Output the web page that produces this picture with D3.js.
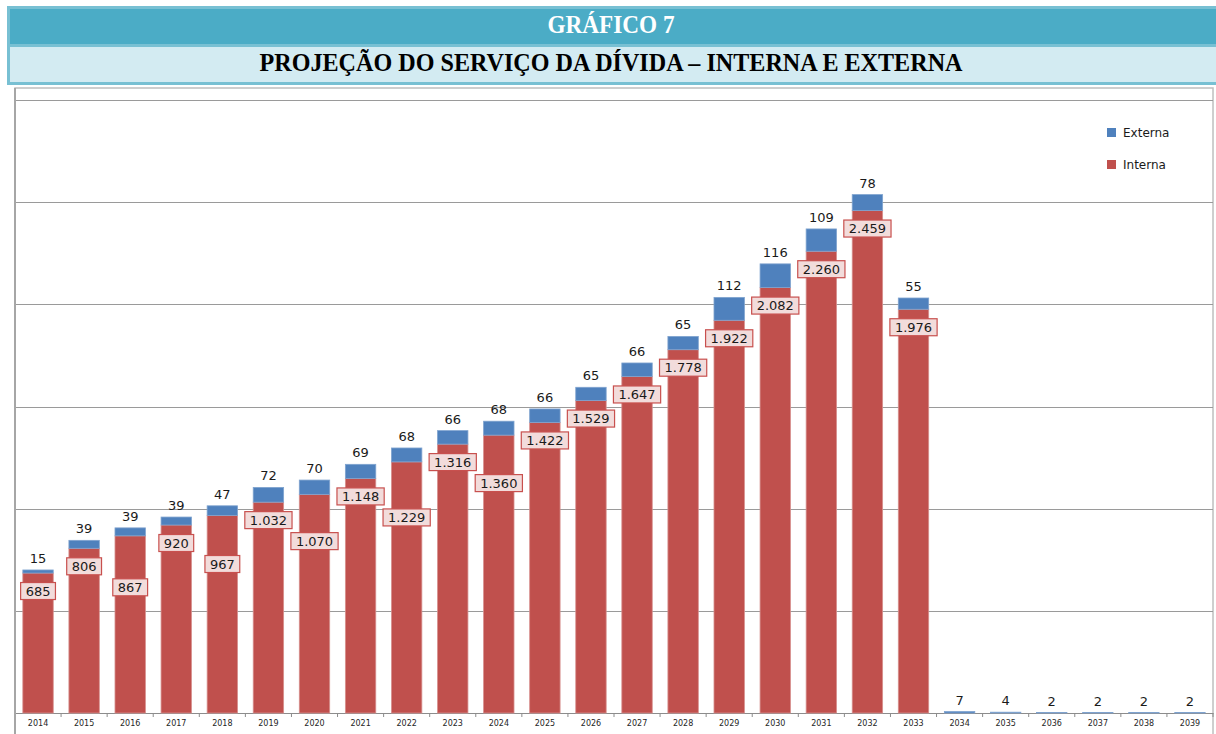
<!DOCTYPE html>
<html>
<head>
<meta charset="utf-8">
<script src="https://cdn.jsdelivr.net/npm/d3@7"></script>
<style>
  body { margin: 0; background: #fff; }
  svg { display: block; }
</style>
</head>
<body>
<div id="chart"></div>
<script>
// anos do eixo x
const years = ['2014', '2015', '2016', '2017', '2018', '2019', '2020', '2021', '2022', '2023',
    '2024', '2025', '2026', '2027', '2028', '2029', '2030', '2031', '2032', '2033',
    '2034', '2035', '2036', '2037', '2038', '2039'];

// servico da divida interna
const interna = [685, 806, 867, 920, 967, 1032, 1070, 1148, 1229, 1316,
    1360, 1422, 1529, 1647, 1778, 1922, 2082, 2260, 2459, 1976,
    0, 0, 0, 0, 0, 0];

// servico da divida externa
const externa = [15, 39, 39, 39, 47, 72, 70, 69, 68, 66,
    68, 66, 65, 66, 65, 112, 116, 109, 78, 55,
    7, 4, 2, 2, 2, 2];

const gridTicks = [500, 1000, 1500, 2000, 2500, 3000];
const seriesNames = ['Externa', 'Interna'];

const width = 1216, height = 734;
const colorInterna = '#C0504D';
const colorExterna = '#4F81BD';

const br = d3.formatLocale({decimal: ',', thousands: '.', grouping: [3], currency: ['R$', '']});
const fmt = br.format(',d');

const svg = d3.select('#chart').append('svg')
    .attr('width', width)
    .attr('height', height);

// ---- cabecalho ----
const head = svg.append('g');
head.append('rect')
    .attr('x', 7).attr('y', 6)
    .attr('width', width - 7).attr('height', 79)
    .attr('fill', '#78C0D3');
head.append('rect')
    .attr('x', 10).attr('y', 9)
    .attr('width', width - 10).attr('height', 35)
    .attr('fill', '#4BACC6');
head.append('rect')
    .attr('x', 10).attr('y', 47)
    .attr('width', width - 10).attr('height', 35)
    .attr('fill', '#D3EBF2');
head.append('text')
    .attr('x', 611).attr('y', 33)
    .attr('text-anchor', 'middle')
    .attr('textLength', 127)
    .attr('lengthAdjust', 'spacingAndGlyphs')
    .style('font-family', '"Liberation Serif", "Times New Roman", serif')
    .style('font-weight', 'bold')
    .style('font-size', '25px')
    .attr('fill', '#FFFFFF')
    .text('GRÁFICO 7');
head.append('text')
    .attr('x', 611).attr('y', 71)
    .attr('text-anchor', 'middle')
    .attr('textLength', 703)
    .attr('lengthAdjust', 'spacingAndGlyphs')
    .style('font-family', '"Liberation Serif", "Times New Roman", serif')
    .style('font-weight', 'bold')
    .style('font-size', '25px')
    .attr('fill', '#000000')
    .text('PROJEÇÃO DO SERVIÇO DA DÍVIDA – INTERNA E EXTERNA');

// ---- area do grafico ----
const plot = {left: 15, right: 1213, top: 100, bottom: 713};

svg.append('rect')
    .attr('x', plot.left).attr('y', 88)
    .attr('width', plot.right - plot.left).attr('height', 700)
    .attr('fill', '#FFFFFF')
    .attr('stroke', '#BFBFBF')
    .attr('stroke-width', 1.5);

const x = d3.scaleBand()
    .domain(years)
    .range([plot.left, plot.right])
    .paddingInner(0.34)
    .paddingOuter(0.17);

const y = d3.scaleLinear()
    .domain([0, 3000])
    .range([plot.bottom, plot.top]);

// linhas de grade
svg.append('g')
    .selectAll('line')
    .data(gridTicks)
    .join('line')
    .attr('x1', plot.left).attr('x2', plot.right)
    .attr('y1', d => Math.round(y(d)) + 0.5)
    .attr('y2', d => Math.round(y(d)) + 0.5)
    .attr('stroke', '#9A9A9A')
    .attr('stroke-width', 1);

// eixo x
const xAxis = d3.axisBottom(x).tickSize(0).tickPadding(7);
const gx = svg.append('g')
    .attr('transform', `translate(0, ${plot.bottom})`)
    .call(xAxis);
gx.select('.domain').attr('stroke', '#8C8C8C');
gx.selectAll('text')
    .style('font-family', '"DejaVu Sans", sans-serif')
    .style('font-size', '8px')
    .attr('fill', '#262626');

// marcas entre categorias
const step = x.step();
svg.append('g')
    .selectAll('line')
    .data(d3.range(years.length + 1))
    .join('line')
    .attr('x1', i => plot.left + i * step)
    .attr('x2', i => plot.left + i * step)
    .attr('y1', plot.bottom)
    .attr('y2', plot.bottom + 4)
    .attr('stroke', '#8C8C8C');

// eixo vertical
svg.append('line')
    .attr('x1', plot.left).attr('x2', plot.left)
    .attr('y1', 88).attr('y2', height)
    .attr('stroke', '#A6A6A6')
    .attr('stroke-width', 2);

// ---- barras empilhadas ----
const rows = years.map((yr, i) => ({year: yr, Interna: interna[i], Externa: externa[i]}));
const stack = d3.stack().keys(['Interna', 'Externa'])(rows);
const colors = {Interna: colorInterna, Externa: colorExterna};
const strokes = {Interna: '#D7908E', Externa: '#7FA3CF'};

svg.append('g')
    .selectAll('g')
    .data(stack)
    .join('g')
    .attr('fill', d => colors[d.key])
    .attr('stroke', d => strokes[d.key])
    .attr('stroke-width', 0.8)
    .selectAll('rect')
    .data(d => d)
    .join('rect')
    .attr('x', d => x(d.data.year))
    .attr('width', x.bandwidth())
    .attr('y', d => y(d[1]))
    .attr('height', d => Math.max(0, y(d[0]) - y(d[1])));

// rotulos da divida externa (acima da barra)
svg.append('g')
    .selectAll('text')
    .data(rows)
    .join('text')
    .attr('x', d => x(d.year) + x.bandwidth() / 2)
    .attr('y', d => y(d.Interna + d.Externa) - 7)
    .attr('text-anchor', 'middle')
    .style('font-family', '"DejaVu Sans", sans-serif')
    .style('font-size', '13px')
    .attr('fill', '#1A1A1A')
    .text(d => fmt(d.Externa));

// rotulos da divida interna (caixas), com deslocamento para evitar sobreposicao
const boxH = 17, minSep = 21;
let prevY = null;
const intLabels = rows.filter(d => d.Interna > 0).map(d => {
    let cy = y(d.Interna) + 18;
    if (prevY !== null && Math.abs(cy - prevY) < minSep) cy = prevY + minSep;
    prevY = cy;
    return {year: d.year, value: d.Interna, cy: cy};
});

const lab = svg.append('g')
    .selectAll('g')
    .data(intLabels)
    .join('g')
    .attr('transform', d => `translate(${x(d.year) + x.bandwidth() / 2}, ${d.cy})`);

lab.append('text')
    .attr('text-anchor', 'middle')
    .attr('dy', '0.36em')
    .style('font-family', '"DejaVu Sans", sans-serif')
    .style('font-size', '13px')
    .attr('fill', '#1A1A1A')
    .text(d => fmt(d.value));

lab.each(function () {
    const g = d3.select(this);
    const bb = g.select('text').node().getBBox();
    const w = bb.width + 10;
    g.insert('rect', 'text')
        .attr('x', -w / 2)
        .attr('y', -boxH / 2)
        .attr('width', w)
        .attr('height', boxH)
        .attr('fill', '#F2DCDB')
        .attr('stroke', '#C8504E')
        .attr('stroke-width', 1.2);
});

// ---- legenda ----
const legend = svg.append('g')
    .selectAll('g')
    .data(seriesNames)
    .join('g')
    .attr('transform', (d, i) => `translate(1107, ${128 + i * 32})`);

legend.append('rect')
    .attr('width', 9).attr('height', 9)
    .attr('fill', d => d === 'Externa' ? colorExterna : colorInterna);

legend.append('text')
    .attr('x', 16).attr('y', 4.5)
    .attr('dy', '0.36em')
    .style('font-family', '"DejaVu Sans", sans-serif')
    .style('font-size', '12px')
    .attr('fill', '#1A1A1A')
    .text(d => d);
</script>
</body>
</html>
